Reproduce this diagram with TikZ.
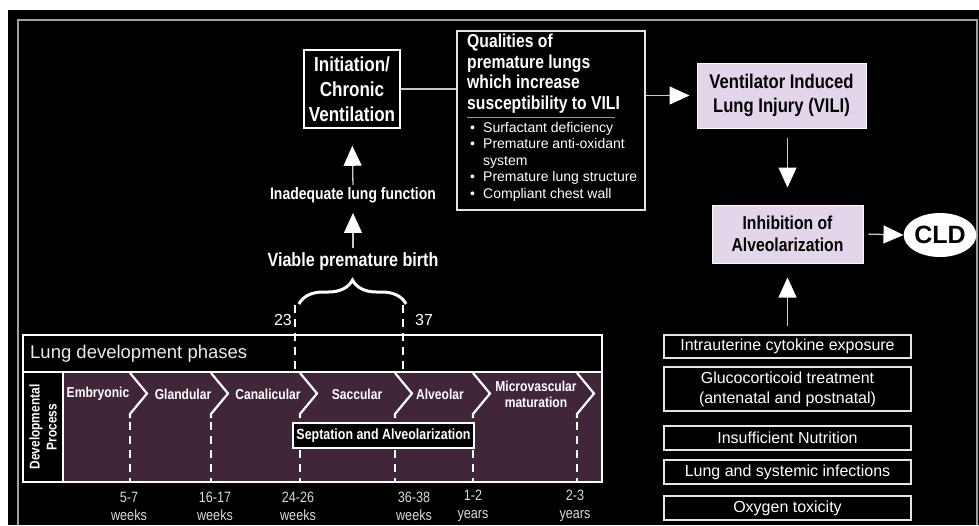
\documentclass[tikz,border=0pt]{standalone}
\usepackage{fontspec}
\setmainfont{Liberation Sans}
\newfontfamily\narrowfont[FakeStretch=0.84]{Liberation Sans}
\usepackage{tikz}
\usetikzlibrary{arrows.meta,decorations.pathreplacing,shapes.geometric}
\definecolor{plum}{RGB}{64,38,56}
\definecolor{lilac}{RGB}{228,214,234}
\definecolor{rule}{RGB}{200,200,200}

\begin{document}
\begin{tikzpicture}[x=1pt,y=-1pt,
  wbox/.style={draw=white, line width=1.6pt, fill=black, text=white, align=center, inner sep=0pt},
  lbox/.style={fill=lilac, draw=white!85!lilac, line width=1pt, text=black, align=center, inner sep=0pt,
    font=\narrowfont\bfseries\fontsize{19.8}{24}\selectfont},
  factor/.style={draw=white!90!black, line width=1.6pt, fill=black, text=white, align=center, inner sep=0pt,
    minimum width=247pt, font=\fontsize{16}{20}\selectfont},
  btxt/.style={text=white, align=center, inner sep=0pt},
  phase/.style={text=white, inner sep=0pt, align=center, font=\narrowfont\bfseries\fontsize{14.4}{16}\selectfont},
  age/.style={text=white!85!black, inner sep=0pt, align=center, font=\narrowfont\fontsize{15}{18}\selectfont},
  link/.style={draw=rule, line width=1.3pt},
  pointer/.style={link, -{Triangle[width=18pt,length=20pt,color=white,fill=white]}},
  chev/.style={draw=white, line width=2.2pt, line join=miter},
  cut/.style={draw=white, line width=2.5pt, dash pattern=on 8pt off 6pt}
]
%BACKGROUND
\useasboundingbox (0,0) rectangle (979,525);
\fill[white] (0,0) rectangle (979,525);
\fill[black] (8,10) rectangle (979,525);
\draw[draw=rule!80!black, line width=1.5pt] (18,525) -- (18,20) -- (977,20) -- (977,525);

%TOP LEFT
\node[wbox, minimum width=96pt, minimum height=78pt, font=\narrowfont\bfseries\fontsize{20.3}{25}\selectfont] (init) at (352,89) {Initiation/\\Chronic\\Ventilation};
\node[btxt, font=\narrowfont\bfseries\fontsize{16.6}{18}\selectfont] (inad) at (353,195) {Inadequate lung function};
\node[btxt, font=\narrowfont\bfseries\fontsize{19.2}{22}\selectfont] (viable) at (353,262) {Viable premature birth};
\draw[pointer, shorten <=2pt, shorten >=17pt] (inad.north) -- (init.south);
\draw[pointer, shorten <=5pt, shorten >=10pt] (viable.north) -- (inad.south);

% Qualities
\node[wbox, draw=white!90!black, minimum width=188pt, minimum height=179pt] (qual) at (551,120.5) {};
\node[btxt, align=left, anchor=north west, font=\narrowfont\bfseries\fontsize{18.7}{20.5}\selectfont] (qualhead) at (467,34) {Qualities of\\premature lungs\\which increase\\susceptibility to VILI};
\draw[draw=white!60!black, line width=0.8pt] (467,117) -- (615,117);
\node[btxt, align=left, anchor=north west, font=\fontsize{14}{16.5}\selectfont] (qualbul) at (470,122) {\makebox[13pt][l]{•}Surfactant deficiency\\\makebox[13pt][l]{•}Premature anti-oxidant\\\hspace*{13pt}system\\\makebox[13pt][l]{•}Premature lung structure\\\makebox[13pt][l]{•}Compliant chest wall};
\draw[link] (init.east) -- (init.east -| qual.west);

%RIGHT
\node[lbox, minimum width=169pt, minimum height=65pt] (vili) at (781.5,95.5) {Ventilator Induced\\Lung Injury (VILI)};
\node[lbox, minimum width=151pt, minimum height=58pt, font=\narrowfont\bfseries\fontsize{18.7}{22}\selectfont] (inhib) at (787.5,234) {Inhibition of\\Alveolarization};
\node[ellipse, fill=white, minimum width=66pt, minimum height=44pt, inner sep=0pt, font=\bfseries\fontsize{25}{25}\selectfont] (cld) at (940,235) {CLD};
\draw[pointer, shorten >=7pt] (qual.east |- vili.west) -- (vili.west);
\draw[pointer, shorten <=9pt, shorten >=17pt] (vili.south -| inhib.north) -- (inhib.north);
\draw[pointer, shorten <=5pt] (inhib.east) -- (cld.west);

% Factors
\node[factor, minimum height=23pt] (cyto) at (787.5,346.5) {Intrauterine cytokine exposure};
\node[factor, minimum height=44pt] (gluco) at (787.5,389) {Glucocorticoid treatment\\(antenatal and postnatal)};
\node[factor, minimum height=24pt] (nutri) at (787.5,438) {Insufficient Nutrition};
\node[factor, minimum height=24pt] (infect) at (787.5,472) {Lung and systemic infections};
\node[factor, minimum height=24pt] (oxy) at (787.5,508) {Oxygen toxicity};
\coordinate (foot) at (787.5,326);
\draw[pointer, shorten >=14pt] (foot) -- (inhib.south);

%BOT
\node[draw=white, line width=1.8pt, minimum width=579pt, minimum height=37pt, inner sep=0pt] (phasebar) at (312.5,353.5) {};
\node[text=white!92!black, anchor=west, inner sep=0pt, font=\fontsize{18.5}{20}\selectfont] (phasetitle) at (30,354) {Lung development phases};
\node[draw=white, fill=plum, line width=1.8pt, minimum width=579pt, minimum height=110pt, inner sep=0pt] (band) at (312.5,427) {};
\node[draw=white, fill=black, line width=1.8pt, rotate=90, minimum width=110pt, minimum height=40pt, inner sep=0pt,
  text=white, align=center, font=\narrowfont\bfseries\fontsize{14.2}{17}\selectfont] (devcell) at (43,427) {Developmental\\Process};
\foreach \b in {130,211,300,395,473,577}{
  \draw[chev] (\b,373) -- (\b+17,393.5) -- (\b,414) -- (\b,418);
  \draw[cut] (\b,422) -- (\b,481);
}
\foreach \x/\n/\t in {98/embry/Embryonic, 183/gland/Glandular, 268/canal/Canalicular, 357/saccu/Saccular, 440/alveo/Alveolar, 536/micro/Microvascular\\maturation}
  \node[phase] (\n) at (\x,394) {\t};
\node[wbox, line width=1.8pt, minimum width=181pt, minimum height=25pt, font=\narrowfont\bfseries\fontsize{14.8}{16}\selectfont] (septa) at (383.5,435.5) {Septation and Alveolarization};
\foreach \x/\n/\t in {129/wa/5-7\\weeks, 215/wb/16-17\\weeks, 298/wc/24-26\\weeks, 414/wd/36-38\\weeks, 473/ya/1-2\\years, 575/yb/2-3\\years}
  \node[age] (\n) at (\x,506) {\t};

% Frontier
\draw[cut] (295,305) -- (295,372);
\draw[cut] (403,305) -- (403,372);
\node[text=white, anchor=east, inner sep=0pt, font=\fontsize{16}{16}\selectfont] (gw23) at (292,320) {23};
\node[text=white, anchor=west, inner sep=0pt, font=\fontsize{16}{16}\selectfont] (gw37) at (415,320) {37};
\draw[white, line width=3pt, decorate, decoration={brace, amplitude=24pt}] (299,304) -- (406,304);
\end{tikzpicture}
\end{document}
